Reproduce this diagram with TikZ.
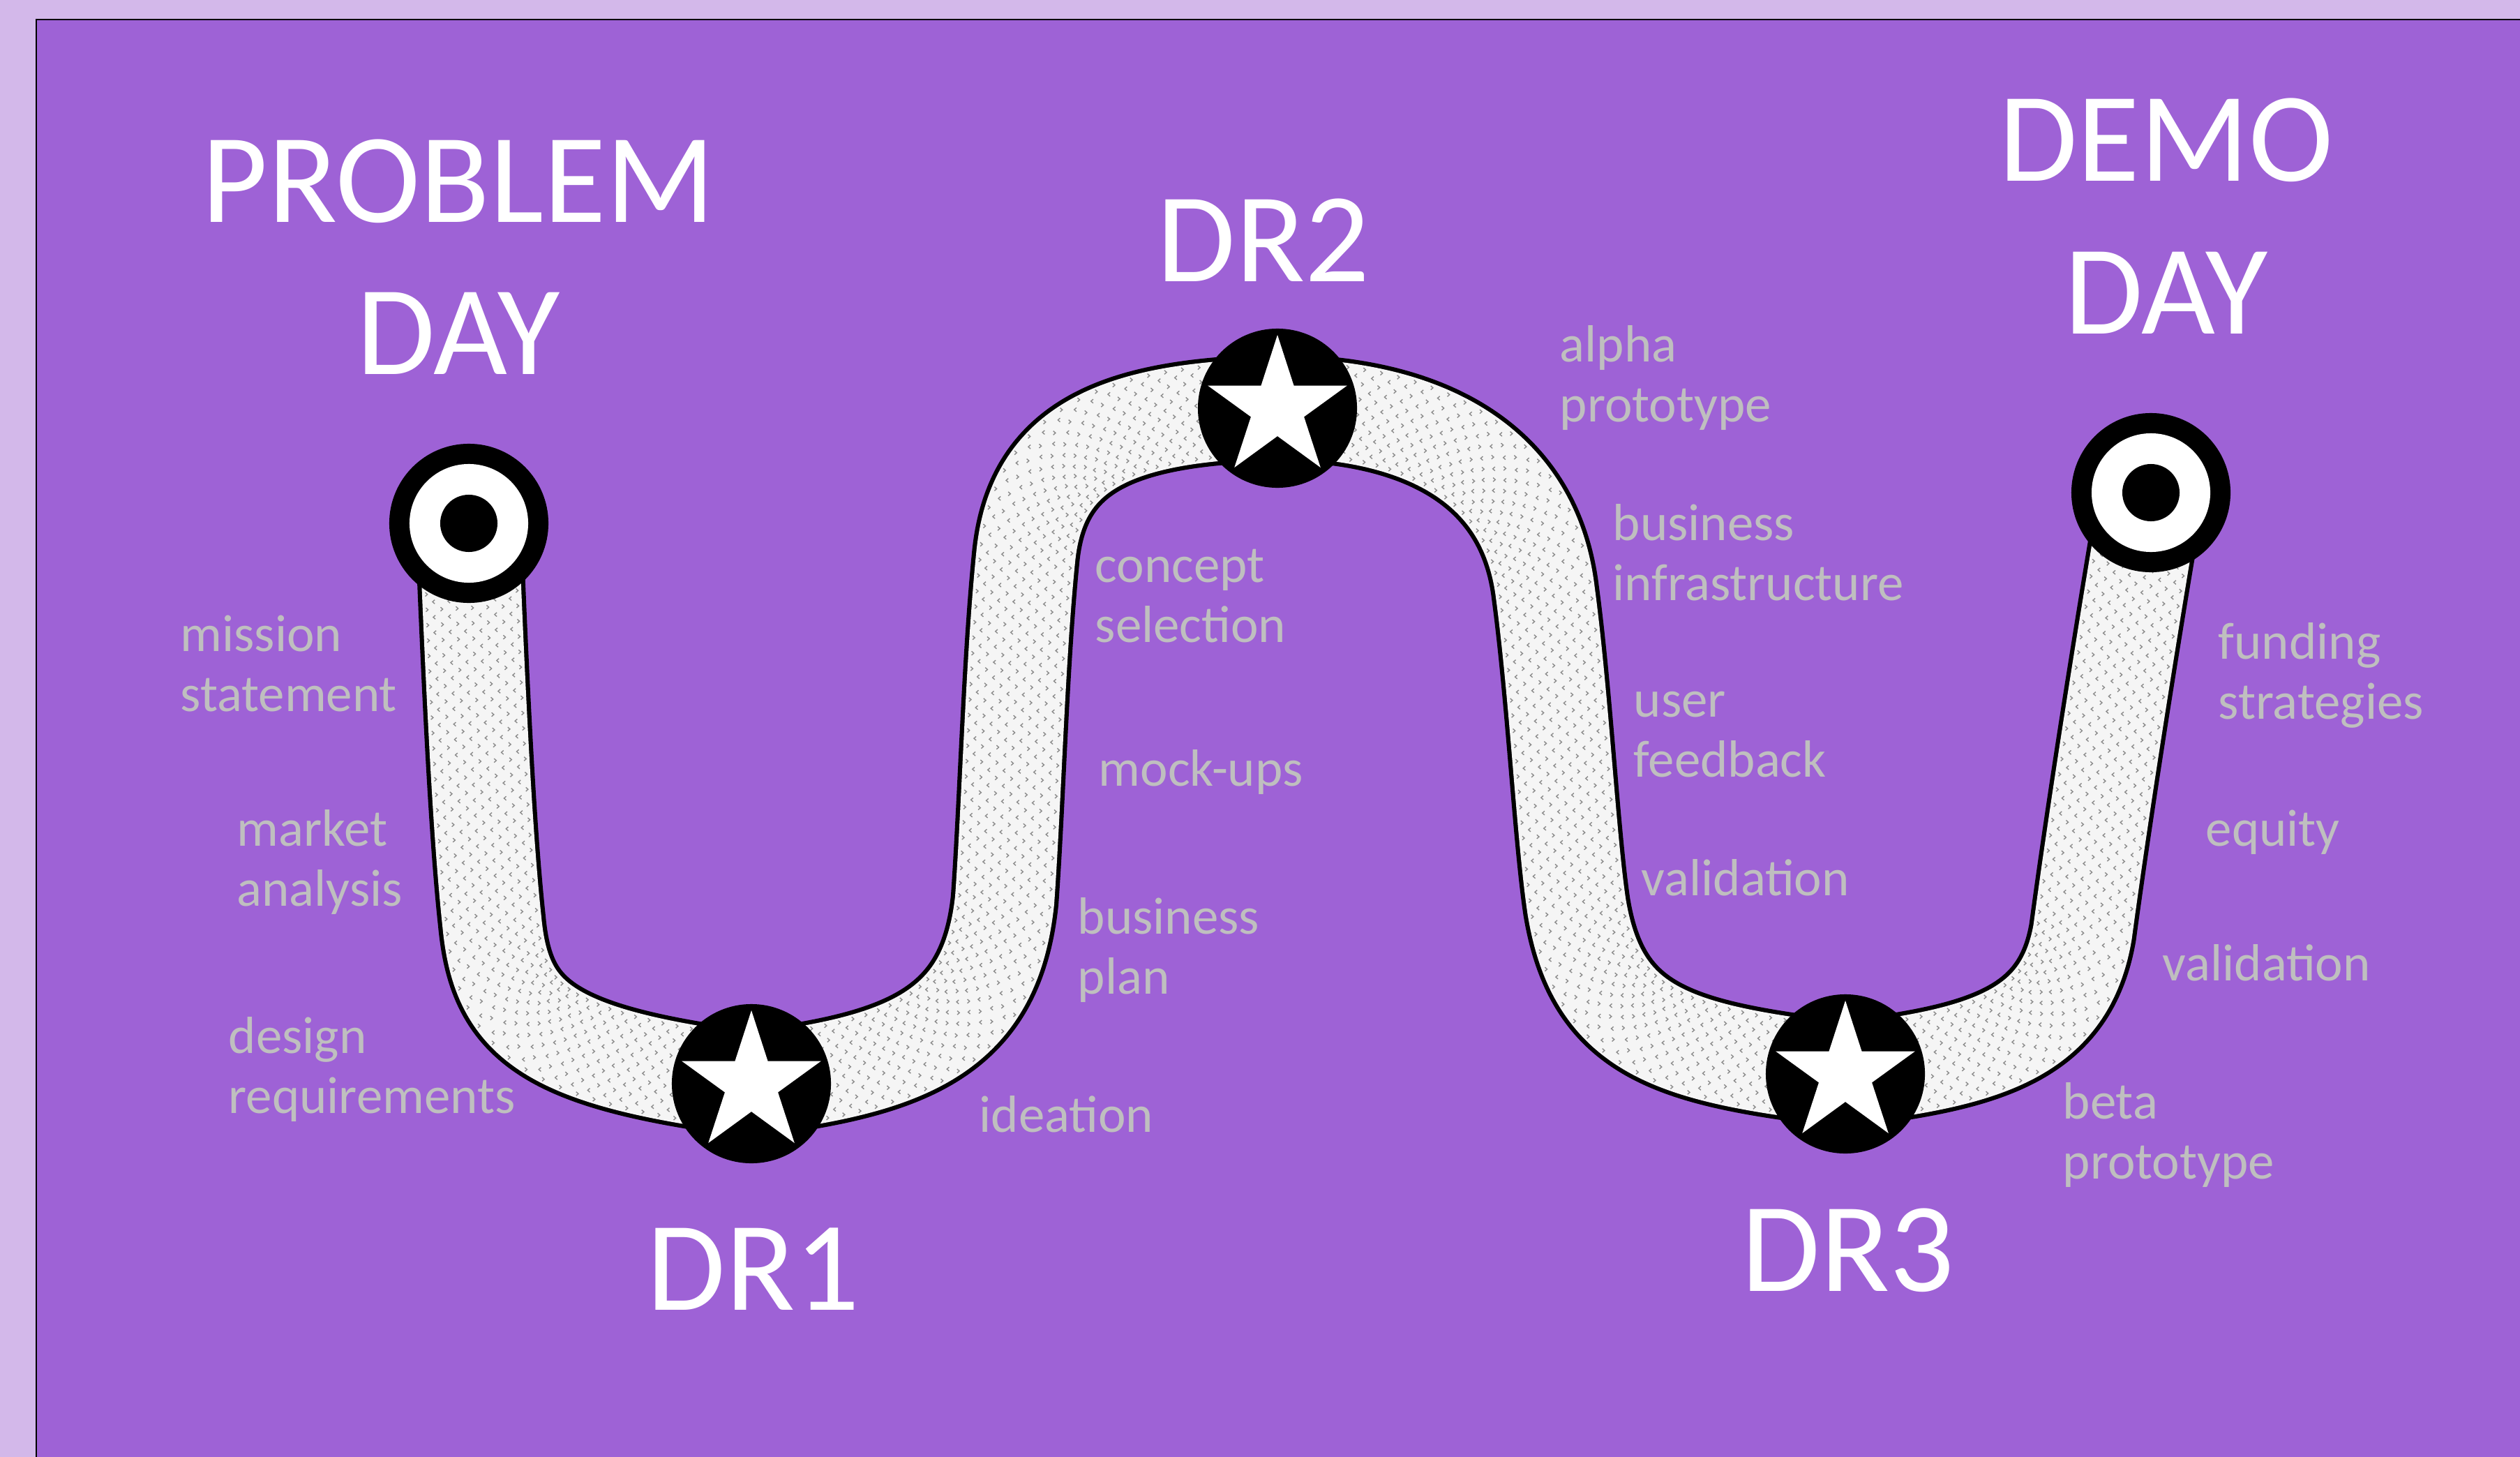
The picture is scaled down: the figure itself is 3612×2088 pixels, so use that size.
\documentclass[tikz,border=0pt]{standalone}
\usepackage{fontspec}
\setmainfont{Carlito}
\usetikzlibrary{decorations.markings}
\definecolor{outerbg}{HTML}{D3B8EA}
\definecolor{purplebg}{HTML}{9E62D6}
\definecolor{labelgray}{HTML}{BFBFBF}
\definecolor{roadfill}{HTML}{F5F5F5}
\definecolor{chevgray}{HTML}{8C8C8C}
\pgfdeclarelayer{bg}
\pgfdeclarelayer{road}
\pgfsetlayers{bg,road,main}
\tikzset{
  tgt/.style={circle, fill=black, minimum size=2.28cm, inner sep=0pt,
    path picture={
      \fill[white] (path picture bounding box.center) circle[radius=0.85cm];
      \fill[black] (path picture bounding box.center) circle[radius=0.41cm];}},
  starnode/.style={circle, fill=black, minimum size=2.28cm, inner sep=0pt,
    path picture={
      \fill[white, shift={(path picture bounding box.center)}]
        (90:1.05cm) -- (126:0.40cm) -- (162:1.05cm) -- (198:0.40cm) --
        (234:1.05cm) -- (270:0.40cm) -- (306:1.05cm) -- (342:0.40cm) --
        (18:1.05cm) -- (54:0.40cm) -- cycle;}},
  title/.style={font=\fontsize{52}{62}\selectfont, text=white, inner sep=0pt, anchor=base},
  lbl/.style={font=\fontsize{21.3}{24.5}\selectfont, text=labelgray, inner sep=0pt, anchor=base west},
  roadline/.style={draw=roadfill, line width=40.5pt,
    preaction={draw=black, line width=44pt}},
  chev/.style={draw=chevgray, line width=0.4pt, line cap=butt, line join=miter},
  roadtexture/.style={decorate, decoration={markings,
    mark=between positions 0 and 1 step 6.26pt with {
      \foreach \o in {-15.65,-9.39,-3.13,3.13,9.39,15.65}{
        \coordinate (mk) at (0pt,\o pt);
        \begin{scope}[reset cm]
          \draw[chev] (mk) ++(0.45pt,0.8pt) -- ++(-0.9pt,-0.8pt) -- ++(0.9pt,-0.8pt);
        \end{scope}}
      \foreach \o in {-18.5,-12.52,-6.26,0,6.26,12.52,18.5}{
        \coordinate (mk) at (3.13pt,\o pt);
        \begin{scope}[reset cm]
          \draw[chev] (mk) ++(-0.45pt,0.8pt) -- ++(0.9pt,-0.8pt) -- ++(-0.9pt,-0.8pt);
        \end{scope}}
    }}},
}
\begin{document}
\begin{tikzpicture}[x=0.01cm, y=-0.01cm]
\useasboundingbox (0,0) rectangle (3612,2088);
\clip (0,0) rectangle (3612,2088);
\begin{pgfonlayer}{bg}
  \fill[outerbg] (0,0) rectangle (3612,2088);
  \fill[purplebg] (52,28) rectangle (3700,2200);
  \draw[line width=0.6pt] (52,2200) -- (52,28) -- (3700,28);
\end{pgfonlayer}

% milestones
\node[tgt] (pd) at (672,750) {};
\node[starnode] (dr1) at (1077,1553) {};
\node[starnode] (dr2) at (1831,585) {};
\node[starnode] (dr3) at (2645,1539) {};
\node[tgt] (dd) at (3083,706) {};

% road
\begin{pgfonlayer}{road}
  \path[roadline] (pd.center)
    .. controls (682,1000) and (692,1200) .. (705,1320)
    .. controls (718,1460) and (780,1515) .. (dr1.center)
    .. controls (1300,1525) and (1420,1480) .. (1440,1290)
    .. controls (1450,1150) and (1455,950) .. (1470,800)
    .. controls (1485,640) and (1600,590) .. (dr2.center)
    .. controls (2000,585) and (2190,640) .. (2215,850)
    .. controls (2235,1000) and (2245,1200) .. (2260,1300)
    .. controls (2290,1480) and (2400,1510) .. (dr3.center)
    .. controls (2850,1515) and (2960,1480) .. (2985,1336)
    .. controls (3010,1150) and (3050,900) .. (dd.center);
  \path[roadtexture] (pd.center)
    .. controls (682,1000) and (692,1200) .. (705,1320)
    .. controls (718,1460) and (780,1515) .. (dr1.center)
    .. controls (1300,1525) and (1420,1480) .. (1440,1290)
    .. controls (1450,1150) and (1455,950) .. (1470,800)
    .. controls (1485,640) and (1600,590) .. (dr2.center)
    .. controls (2000,585) and (2190,640) .. (2215,850)
    .. controls (2235,1000) and (2245,1200) .. (2260,1300)
    .. controls (2290,1480) and (2400,1510) .. (dr3.center)
    .. controls (2850,1515) and (2960,1480) .. (2985,1336)
    .. controls (3010,1150) and (3050,900) .. (dd.center);
\end{pgfonlayer}

% titles
\node[title] (tpd) at (657,318) {\begin{tabular}[t]{@{}c@{}}PROBLEM\\DAY\end{tabular}};
\node[title] (tdr2) at (1811,403) {DR2};
\node[title] (tdd) at (3105,260) {\begin{tabular}[t]{@{}c@{}}DEMO\\DAY\end{tabular}};
\node[title] (tdr1) at (1080,1877) {DR1};
\node[title] (tdr3) at (2649,1850) {DR3};

% labels
\node[lbl] (l1) at (258,933) {\begin{tabular}[t]{@{}l@{}}mission\\statement\end{tabular}};
\node[lbl] (l2) at (339,1212) {\begin{tabular}[t]{@{}l@{}}market\\analysis\end{tabular}};
\node[lbl] (l3) at (327,1509) {\begin{tabular}[t]{@{}l@{}}design\\requirements\end{tabular}};
\node[lbl] (l4) at (1403,1622) {ideation};
\node[lbl] (l5) at (1544,1338) {\begin{tabular}[t]{@{}l@{}}business\\plan\end{tabular}};
\node[lbl] (l6) at (1574,1126) {mock-ups};
\node[lbl] (l7) at (1569,834) {\begin{tabular}[t]{@{}l@{}}concept\\selection\end{tabular}};
\node[lbl] (l8) at (2235,518) {\begin{tabular}[t]{@{}l@{}}alpha\\prototype\end{tabular}};
\node[lbl] (l9) at (2311,774) {\begin{tabular}[t]{@{}l@{}}business\\infrastructure\end{tabular}};
\node[lbl] (l10) at (2341,1027) {\begin{tabular}[t]{@{}l@{}}user\\feedback\end{tabular}};
\node[lbl] (l11) at (2352,1283) {validation};
\node[lbl] (l12) at (3179,944) {\begin{tabular}[t]{@{}l@{}}funding\\strategies\end{tabular}};
\node[lbl] (l13) at (3161,1212) {equity};
\node[lbl] (l14) at (3099,1405) {validation};
\node[lbl] (l15) at (2956,1603) {\begin{tabular}[t]{@{}l@{}}beta\\prototype\end{tabular}};
\end{tikzpicture}
\end{document}
